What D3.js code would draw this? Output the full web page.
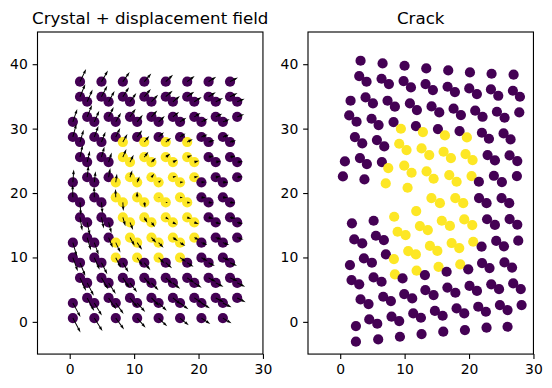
<!DOCTYPE html>
<html><head><meta charset="utf-8">
<script src="https://cdn.jsdelivr.net/npm/d3@7"></script>
<style>
body{margin:0;background:#fff}
svg{display:block}
text{font-family:"DejaVu Sans",sans-serif;fill:#000}
</style>
</head><body>
<svg id="c" width="552" height="388"></svg>
<script>
// ---------- data ----------
const xTicks = [0, 10, 20, 30];
const yTicks = [0, 10, 20, 30, 40];
const titles = ["Crystal + displacement field", "Crack"];

// perfect crystal positions
const crystalX = [
 1.60,4.93,8.25,11.58,14.91,18.24,21.56,24.89,
 1.60,2.71,4.93,6.04,8.25,9.36,11.58,12.69,14.91,16.02,18.24,19.34,21.56,22.67,24.89,26.00,
 0.49,2.71,3.82,6.04,7.15,9.36,10.47,12.69,13.80,16.02,17.13,19.34,20.45,22.67,23.78,26.00,
 0.49,1.60,3.82,4.93,7.15,8.25,10.47,11.58,13.80,14.91,17.13,18.24,20.45,21.56,23.78,24.89,
 1.60,2.71,4.93,6.04,8.25,9.36,11.58,12.69,14.91,16.02,18.24,19.34,21.56,22.67,24.89,26.00,
 0.49,2.71,3.82,6.04,7.15,9.36,10.47,12.69,13.80,16.02,17.13,19.34,20.45,22.67,23.78,26.00,
 0.49,1.60,3.82,4.93,7.15,8.25,10.47,11.58,13.80,14.91,17.13,18.24,20.45,21.56,23.78,24.89,
 1.60,2.71,4.93,6.04,8.25,9.36,11.58,12.69,14.91,16.02,18.24,19.34,21.56,22.67,24.89,26.00,
 0.49,2.71,3.82,6.04,7.15,9.36,10.47,12.69,13.80,16.02,17.13,19.34,20.45,22.67,23.78,26.00,
 0.49,1.60,3.82,4.93,7.15,8.25,10.47,11.58,13.80,14.91,17.13,18.24,20.45,21.56,23.78,24.89,
 1.60,2.71,4.93,6.04,8.25,9.36,11.58,12.69,14.91,16.02,18.24,19.34,21.56,22.67,24.89,26.00,
 0.49,2.71,3.82,6.04,7.15,9.36,10.47,12.69,13.80,16.02,17.13,19.34,20.45,22.67,23.78,26.00,
 0.49,3.82,7.15,10.47,13.80,17.13,20.45,23.78
];
const crystalY = [
 37.29,37.29,37.29,37.29,37.29,37.29,37.29,37.29,
 34.95,34.17,34.95,34.17,34.95,34.17,34.95,34.17,34.95,34.17,34.95,34.17,34.95,34.17,34.95,34.17,
 31.05,31.83,31.05,31.83,31.05,31.83,31.05,31.83,31.05,31.83,31.05,31.83,31.05,31.83,31.05,31.83,
 28.70,27.92,28.70,27.92,28.70,27.92,28.70,27.92,28.70,27.92,28.70,27.92,28.70,27.92,28.70,27.92,
 25.58,24.80,25.58,24.80,25.58,24.80,25.58,24.80,25.58,24.80,25.58,24.80,25.58,24.80,25.58,24.80,
 21.67,22.45,21.67,22.45,21.67,22.45,21.67,22.45,21.67,22.45,21.67,22.45,21.67,22.45,21.67,22.45,
 19.33,18.55,19.33,18.55,19.33,18.55,19.33,18.55,19.33,18.55,19.33,18.55,19.33,18.55,19.33,18.55,
 16.21,15.43,16.21,15.43,16.21,15.43,16.21,15.43,16.21,15.43,16.21,15.43,16.21,15.43,16.21,15.43,
 12.30,13.08,12.30,13.08,12.30,13.08,12.30,13.08,12.30,13.08,12.30,13.08,12.30,13.08,12.30,13.08,
 9.96,9.18,9.96,9.18,9.96,9.18,9.96,9.18,9.96,9.18,9.96,9.18,9.96,9.18,9.96,9.18,
 6.83,6.05,6.83,6.05,6.83,6.05,6.83,6.05,6.83,6.05,6.83,6.05,6.83,6.05,6.83,6.05,
 2.93,3.71,2.93,3.71,2.93,3.71,2.93,3.71,2.93,3.71,2.93,3.71,2.93,3.71,2.93,3.71,
 0.59,0.59,0.59,0.59,0.59,0.59,0.59,0.59
];
// positions after cracking (same atoms, same order)
const crackX = [
 3.16,6.58,9.99,13.36,16.77,20.14,23.50,26.92,
 2.95,4.09,6.42,7.56,9.84,10.98,13.25,14.39,16.67,17.81,20.03,21.22,23.40,24.54,26.81,27.90,
 1.61,3.94,5.08,7.35,8.49,10.82,11.91,14.18,15.38,17.60,18.74,20.96,22.10,24.33,25.52,27.80,
 1.40,2.54,4.87,5.96,8.28,9.42,11.75,12.84,15.17,16.26,18.53,19.67,22.00,23.09,25.36,26.45,
 2.28,3.42,5.70,6.84,9.16,10.30,12.63,13.82,16.05,17.19,19.46,20.55,22.88,24.02,26.29,27.49,
 0.73,3.06,4.14,6.47,7.46,9.94,11.08,13.41,14.50,16.93,18.07,20.39,21.53,23.86,25.10,27.43,
 0.42,1.82,3.76,5.19,7.07,8.38,10.46,11.80,14.16,15.48,17.87,19.10,21.55,22.72,25.05,26.24,
 2.18,3.42,5.54,6.78,8.91,10.15,12.37,13.60,15.77,17.03,19.26,20.50,22.80,24.02,26.30,27.49,
 1.51,3.68,4.92,7.09,8.34,10.56,11.75,13.93,15.08,17.30,18.48,20.65,21.95,24.22,25.42,27.64,
 1.76,2.95,5.18,6.42,8.49,9.68,11.86,13.15,15.27,16.52,18.64,19.88,22.02,23.18,25.50,26.68,
 3.16,4.40,6.68,7.87,9.94,11.18,13.22,14.50,16.64,17.88,20.08,21.23,23.45,24.66,26.86,28.03,
 2.44,4.51,5.75,7.97,9.16,11.34,12.53,14.70,15.90,18.07,19.26,21.43,22.62,24.79,25.98,28.16,
 2.44,5.90,9.27,12.63,16.00,19.36,22.72,25.98
];
const crackY = [
 40.54,40.12,39.76,39.35,39.04,38.73,38.52,38.37,
 38.16,37.28,37.74,36.92,37.38,36.40,36.92,35.98,36.50,35.67,36.24,35.36,36.09,35.10,35.88,34.95,
 34.33,34.85,33.91,34.33,33.40,33.91,32.88,33.45,32.52,33.09,32.10,32.78,31.84,32.62,31.69,32.52,
 32.05,31.07,31.53,30.55,31.02,29.98,30.40,29.46,29.93,28.95,29.62,28.64,29.36,28.43,29.26,28.33,
 28.69,27.70,28.22,27.24,27.65,26.67,26.93,25.89,26.41,25.43,26.05,25.12,25.89,25.07,25.84,24.96,
 24.91,25.43,24.50,24.81,23.87,24.24,23.15,23.36,22.22,22.79,21.75,22.63,21.75,22.68,21.70,22.63,
 22.58,15.29,22.12,15.70,21.49,16.32,20.82,17.20,19.22,18.42,19.22,18.42,19.22,18.42,19.22,18.42,
 12.80,12.18,13.37,12.70,13.99,13.48,14.87,14.25,15.70,14.90,15.90,15.03,15.93,15.05,15.95,15.08,
 8.82,9.85,9.18,10.47,9.75,10.99,10.47,11.79,11.02,12.24,11.46,12.44,11.67,12.57,11.72,12.60,
 6.49,5.82,6.90,6.23,7.37,6.75,7.94,7.27,8.55,7.78,8.92,8.15,9.13,8.35,9.23,8.43,
 3.49,2.76,3.90,3.23,4.32,3.64,4.94,4.16,5.32,4.52,5.58,4.80,5.82,5.07,5.97,5.09,
 -0.65,0.38,-0.29,0.80,0.12,1.31,0.64,1.70,0.95,2.09,1.31,2.35,1.57,2.61,1.83,2.61,
 -3.08,-2.72,-2.31,-1.89,-1.53,-1.27,-0.91,-0.76
];
// region label of each atom (0 = outside, 1 = inside)
const region = [
 0,0,0,0,0,0,0,0,
 0,0,0,0,0,0,0,0,0,0,0,0,0,0,0,0,
 0,0,0,0,0,0,0,0,0,0,0,0,0,0,0,0,
 0,0,0,0,0,1,0,1,0,1,0,1,0,0,0,0,
 0,0,0,0,1,1,1,1,1,1,1,1,0,0,0,0,
 0,0,0,0,1,1,1,1,1,1,1,1,0,0,0,0,
 0,0,0,0,1,1,1,1,1,1,1,1,0,0,0,0,
 0,0,0,0,1,1,1,1,1,1,1,1,0,0,0,0,
 0,0,0,0,1,1,1,1,1,1,1,1,0,0,0,0,
 0,0,0,0,1,0,1,0,1,0,1,0,0,0,0,0,
 0,0,0,0,0,0,0,0,0,0,0,0,0,0,0,0,
 0,0,0,0,0,0,0,0,0,0,0,0,0,0,0,0,
 0,0,0,0,0,0,0,0
];

// ---------- drawing ----------
const svg = d3.select("#c");
const axW = 225.45, axTop = 32, axH = 322.07;
const axLefts = [37.5, 308.0];
const tickLen = 4.86, tickPad = 4.86, fs = 13.9;
const color = d3.scaleOrdinal().domain([0,1]).range([d3.interpolateViridis(0), d3.interpolateViridis(1)]);

const atoms = crystalX.map((x,i)=>({cx:x, cy:crystalY[i], kx:crackX[i], ky:crackY[i], r:region[i]}));

axLefts.forEach((x0, p) => {
  const xs = d3.scaleLinear().domain([-5,30]).range([x0, x0+axW]);
  const ys = d3.scaleLinear().domain([-5,45]).range([axTop+axH, axTop]);
  const g = svg.append("g");

  // points
  g.append("g").selectAll("circle").data(atoms).join("circle")
    .attr("cx", d => xs(p===0 ? d.cx : d.kx))
    .attr("cy", d => ys(p===0 ? d.cy : d.ky))
    .attr("r", 5.1)
    .attr("fill", d => color(d.r));

  // displacement arrows (quiver-like autoscale)
  if (p === 0) {
    const mags = atoms.map(d => Math.hypot(d.kx-d.cx, d.ky-d.cy));
    const amean = d3.mean(mags);
    const N = atoms.length;
    const sn = Math.max(10, Math.sqrt(N));
    const wFrac = 0.06 / Math.min(25, Math.max(8, Math.sqrt(N)));
    const wpx = wFrac * axW;
    const pxPerUnit = axW / (1.8 * amean * sn);
    const hl = 5, hal = 4.5, hw = 3, minsh = 5;
    const paths = atoms.map((d,i) => {
      const u = d.kx - d.cx, v = d.ky - d.cy;
      const Lpx = mags[i] * pxPerUnit;
      const L = Lpx / wpx;
      let X, Y;
      if (L < minsh) {
        const s = L / minsh;
        X = [0, minsh-hal, minsh-hl, minsh, minsh-hl, minsh-hal, 0].map(t=>t*s);
        Y = [0.5, 0.5, hw/2, 0, -hw/2, -0.5, -0.5].map(t=>t*s);
      } else {
        X = [0, L-hal, L-hl, L, L-hl, L-hal, 0];
        Y = [0.5, 0.5, hw/2, 0, -hw/2, -0.5, -0.5];
      }
      const ang = Math.atan2(-v, u);
      const c = Math.cos(ang), sN = Math.sin(ang);
      const ox = xs(d.cx), oy = ys(d.cy);
      const pts = X.map((xx,k) => {
        const a = xx*wpx, b = -Y[k]*wpx;
        return [ox + a*c - b*sN, oy + a*sN + b*c];
      });
      return "M" + pts.map(q => q[0].toFixed(2)+","+q[1].toFixed(2)).join("L") + "Z";
    });
    g.append("g").selectAll("path").data(paths).join("path")
      .attr("d", d => d).attr("fill", "#000").attr("stroke", "none");
  }

  // axes
  const xa = g.append("g").attr("transform", `translate(0,${axTop+axH})`)
    .call(d3.axisBottom(xs).tickValues(xTicks).tickFormat(d3.format("d")).tickSize(tickLen).tickPadding(tickPad).tickSizeOuter(0));
  const ya = g.append("g").attr("transform", `translate(${x0},0)`)
    .call(d3.axisLeft(ys).tickValues(yTicks).tickFormat(d3.format("d")).tickSize(tickLen).tickPadding(tickPad).tickSizeOuter(0));
  [xa, ya].forEach(a => {
    a.select(".domain").remove();
    a.selectAll("line").attr("stroke", "#000").attr("stroke-width", 1.11);
    a.selectAll("text").attr("font-size", fs).attr("font-family", "DejaVu Sans").attr("fill", "#000");
  });
  g.append("rect").attr("x", x0).attr("y", axTop).attr("width", axW).attr("height", axH)
    .attr("fill", "none").attr("stroke", "#000").attr("stroke-width", 1.11);

  g.append("text").attr("x", x0 + axW/2).attr("y", axTop - 8.33)
    .attr("text-anchor", "middle").attr("font-size", 16.67).text(titles[p]);
});
</script>
</body></html>
